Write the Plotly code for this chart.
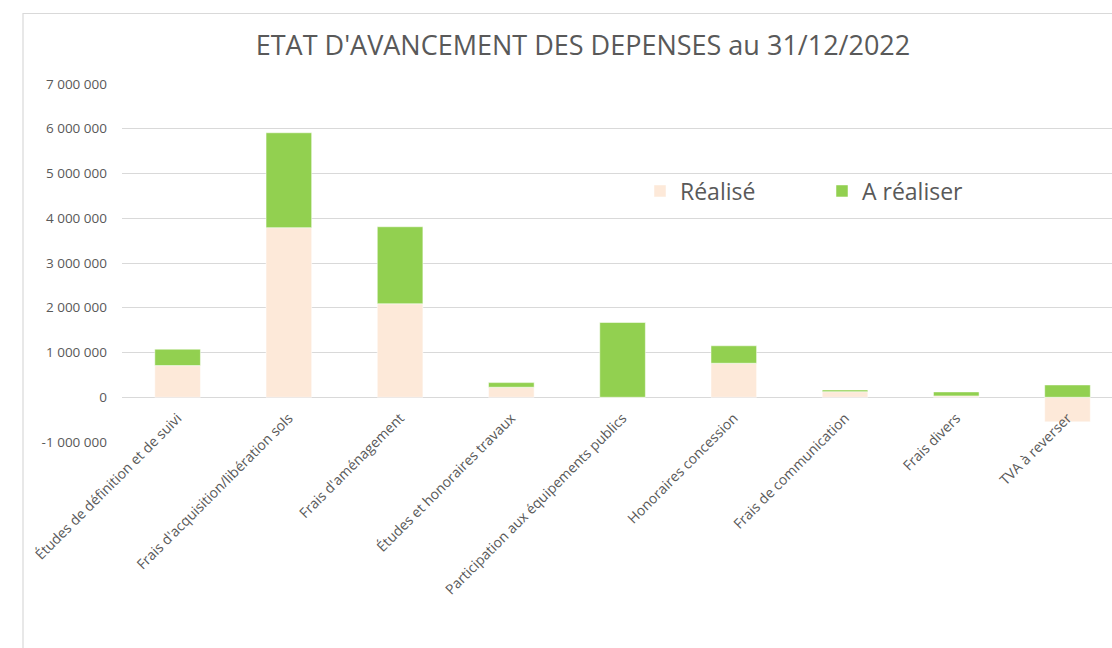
import plotly.graph_objects as go

categories = [
    "Études de définition et de suivi",
    "Frais d'acquisition/libération sols",
    "Frais d'aménagement",
    "Études et honoraires travaux",
    "Participation aux équipements publics",
    "Honoraires concession",
    "Frais de communication",
    "Frais divers",
    "TVA à reverser",
]
realise = [707000, 3790000, 2090000, 224000, 0, 760000, 125000, 30000, -550000]
a_realiser = [367000, 2120000, 1720000, 103000, 1670000, 390000, 38000, 89000, 275000]

tick_vals = [-1000000, 0, 1000000, 2000000, 3000000, 4000000, 5000000, 6000000, 7000000]
tick_text = ["-1 000 000", "0", "1 000 000", "2 000 000", "3 000 000",
             "4 000 000", "5 000 000", "6 000 000", "7 000 000"]

W, H = 1112, 648
L, R, T, B = 122, 0, 84, 206
pw, ph = W - L - R, H - T - B
Y_MIN, Y_MAX = -1000000, 7000000

def px(x):
    return (x - L) / pw

def py(y):
    return (H - B - y) / ph

FONT = "Open Sans"
GREY = "#595959"

fig = go.Figure()
fig.add_trace(go.Bar(
    x=categories, y=realise, name="Réalisé",
    marker=dict(color="#FDE9D9", line=dict(color="#FFFFFF", width=0.5)),
    width=0.41,
))
fig.add_trace(go.Bar(
    x=categories, y=a_realiser, name="A réaliser",
    marker=dict(color="#92D050", line=dict(color="#FFFFFF", width=0.5)),
    width=0.41,
))

fig.update_layout(
    width=W, height=H,
    barmode="relative",
    paper_bgcolor="white", plot_bgcolor="white",
    margin=dict(l=L, r=R, t=T, b=B, pad=0),
    font=dict(family=FONT, color=GREY, size=12),
    title=dict(
        text="ETAT D'AVANCEMENT DES DEPENSES au 31/12/2022",
        font=dict(family=FONT, size=27, color=GREY),
        x=583 / W, xref="container", xanchor="center",
        y=1 - 46 / H, yref="container", yanchor="middle",
    ),
    legend=dict(
        orientation="h",
        x=px(640), y=py(191), xanchor="left", yanchor="middle",
        xref="paper", yref="paper",
        font=dict(family=FONT, size=23, color=GREY),
        entrywidth=137, entrywidthmode="pixels",
        bgcolor="rgba(0,0,0,0)",
        traceorder="normal",
    ),
    showlegend=True,
)

# category axis crosses the value axis at zero (as in the original chart)
zero_pos = (0 - Y_MIN) / (Y_MAX - Y_MIN)
fig.update_xaxes(
    range=[-0.5, 8.4],
    anchor="free", position=zero_pos,
    tickangle=-45,
    tickfont=dict(family=FONT, size=14, color=GREY),
    showgrid=False, showline=False, zeroline=False,
    ticks="", ticklen=0, ticklabelstandoff=9,
)
fig.update_yaxes(
    range=[Y_MIN, Y_MAX],
    tickvals=tick_vals, ticktext=tick_text,
    tickfont=dict(family=FONT, size=13.5, color=GREY),
    showgrid=True, gridcolor="#D9D9D9", gridwidth=1,
    zeroline=True, zerolinecolor="#D9D9D9", zerolinewidth=1,
    showline=False, ticks="", ticklabelstandoff=14,
)

# chart area border (Excel chart frame)
fig.add_shape(
    type="rect", xref="paper", yref="paper",
    x0=px(23), x1=px(1140), y0=py(700), y1=py(13.5),
    line=dict(color="#D9D9D9", width=1.2), fillcolor="rgba(0,0,0,0)",
    layer="below",
)

fig.write_html("out.html")
